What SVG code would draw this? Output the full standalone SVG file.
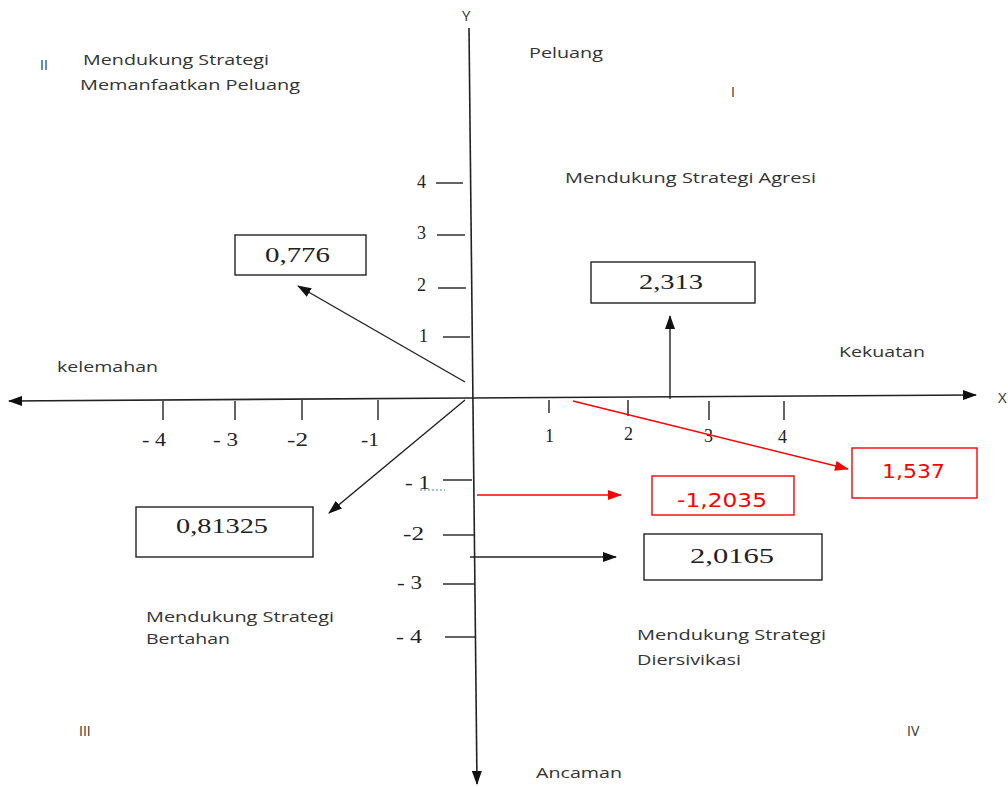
<svg xmlns="http://www.w3.org/2000/svg" width="1008" height="787" viewBox="0 0 1008 787">
  <style>
    .lbl { font-family: "Open Sans", "Liberation Sans", sans-serif; font-size: 15px; fill: #333; }
    .roman { font-family: "Open Sans", "Liberation Sans", sans-serif; font-size: 14px; fill: #333; }
    .num { font-family: "Liberation Serif", serif; font-size: 18px; fill: #222; }
    .val { font-family: "Liberation Serif", serif; font-size: 21px; fill: #222; }
    .valr { font-family: "DejaVu Sans", "Liberation Sans", sans-serif; font-size: 20px; fill: #ff0000; }
    .axis { stroke: #222; stroke-width: 1.6; fill: none; }
    .tick { stroke: #222; stroke-width: 1.4; }
    .box { fill: #fff; stroke: #222; stroke-width: 1.4; }
    .boxr { fill: #fff; stroke: #ff0000; stroke-width: 1.4; }
    .arr { stroke: #222; stroke-width: 1.4; fill: none; }
    .arrr { stroke: #ff0000; stroke-width: 1.4; fill: none; }
  </style>
  <defs>
    <marker id="ah" markerUnits="userSpaceOnUse" markerWidth="14" markerHeight="10" refX="13" refY="5" orient="auto">
      <path d="M0,0 L14,5 L0,10 Z" fill="#111"/>
    </marker>
    <marker id="ahr" markerUnits="userSpaceOnUse" markerWidth="14" markerHeight="10" refX="13" refY="5" orient="auto">
      <path d="M0,0 L14,5 L0,10 Z" fill="#ff0000"/>
    </marker>
  </defs>

  <rect width="1008" height="787" fill="#fff"/>

  <!-- axes -->
  <g id="axes">
    <line class="axis" x1="469" y1="28" x2="477" y2="784" marker-end="url(#ah)"/>
    <line class="axis" x1="470" y1="398" x2="976" y2="395" marker-end="url(#ah)"/>
    <line class="axis" x1="470" y1="398" x2="9" y2="401" marker-end="url(#ah)"/>
    <text class="lbl" x="462" y="21">Y</text>
    <text class="lbl" x="998" y="403">X</text>

    <!-- x ticks -->
    <line class="tick" x1="163" y1="401" x2="163" y2="420"/>
    <line class="tick" x1="235" y1="401" x2="235" y2="420"/>
    <line class="tick" x1="302" y1="400" x2="302" y2="420"/>
    <line class="tick" x1="378" y1="400" x2="378" y2="420"/>
    <line class="tick" x1="549" y1="400" x2="549" y2="413"/>
    <line class="tick" x1="628" y1="400" x2="628" y2="416"/>
    <line class="tick" x1="709" y1="401" x2="709" y2="420"/>
    <line class="tick" x1="784" y1="401" x2="784" y2="420"/>
    <text class="num" x="142" y="446" textLength="24" lengthAdjust="spacingAndGlyphs">- 4</text>
    <text class="num" x="213" y="446" textLength="25" lengthAdjust="spacingAndGlyphs">- 3</text>
    <text class="num" x="287" y="446" textLength="21" lengthAdjust="spacingAndGlyphs">-2</text>
    <text class="num" x="361" y="446" textLength="18" lengthAdjust="spacingAndGlyphs">-1</text>
    <text class="num" x="545" y="442">1</text>
    <text class="num" x="624" y="440">2</text>
    <text class="num" x="704" y="442">3</text>
    <text class="num" x="778" y="443">4</text>

    <!-- y ticks -->
    <line class="tick" x1="436" y1="183" x2="463" y2="183"/>
    <line class="tick" x1="437" y1="235" x2="465" y2="235"/>
    <line class="tick" x1="438" y1="288" x2="466" y2="288"/>
    <line class="tick" x1="443" y1="337" x2="470" y2="337"/>
    <line class="tick" x1="443" y1="480" x2="472" y2="480"/>
    <line class="tick" x1="443" y1="535" x2="475" y2="535"/>
    <line class="tick" x1="443" y1="584" x2="475" y2="584"/>
    <line class="tick" x1="445" y1="637" x2="476" y2="637"/>
    <text class="num" x="417" y="188">4</text>
    <text class="num" x="417" y="239">3</text>
    <text class="num" x="417" y="291">2</text>
    <text class="num" x="419" y="342">1</text>
    <text class="num" x="405" y="489" textLength="25" lengthAdjust="spacingAndGlyphs">- 1</text>
    <line x1="420" y1="490" x2="445" y2="490" stroke="#4a7fd8" stroke-width="1" stroke-dasharray="2,2"/>
    <text class="num" x="403" y="540" textLength="21" lengthAdjust="spacingAndGlyphs">-2</text>
    <text class="num" x="397" y="589" textLength="25" lengthAdjust="spacingAndGlyphs">- 3</text>
    <text class="num" x="396" y="643" textLength="26" lengthAdjust="spacingAndGlyphs">- 4</text>
  </g>

  <!-- quadrant and side labels -->
  <g id="labels">
    <text class="roman" x="40" y="70">II</text>
    <text class="lbl" x="83" y="65" textLength="186" lengthAdjust="spacingAndGlyphs">Mendukung Strategi</text>
    <text class="lbl" x="80" y="90" textLength="220" lengthAdjust="spacingAndGlyphs">Memanfaatkan Peluang</text>
    <text class="lbl" x="529" y="58" textLength="74" lengthAdjust="spacingAndGlyphs">Peluang</text>
    <text class="roman" x="731" y="97">I</text>
    <text class="lbl" x="565" y="183" textLength="251" lengthAdjust="spacingAndGlyphs">Mendukung Strategi Agresi</text>
    <text class="lbl" x="839" y="357" textLength="86" lengthAdjust="spacingAndGlyphs">Kekuatan</text>
    <text class="lbl" x="57" y="372" textLength="101" lengthAdjust="spacingAndGlyphs">kelemahan</text>
    <text class="lbl" x="146" y="622" textLength="188" lengthAdjust="spacingAndGlyphs">Mendukung Strategi</text>
    <text class="lbl" x="146" y="644" textLength="84" lengthAdjust="spacingAndGlyphs">Bertahan</text>
    <text class="lbl" x="637" y="640" textLength="189" lengthAdjust="spacingAndGlyphs">Mendukung Strategi</text>
    <text class="lbl" x="637" y="665" textLength="104" lengthAdjust="spacingAndGlyphs">Diersivikasi</text>
    <text class="roman" x="79" y="736">III</text>
    <text class="roman" x="907" y="736">IV</text>
    <text class="lbl" x="536" y="778" textLength="86" lengthAdjust="spacingAndGlyphs">Ancaman</text>
  </g>

  <!-- connectors -->
  <g id="connectors">
    <line class="arr" x1="465" y1="382" x2="298" y2="286" marker-end="url(#ah)"/>
    <line class="arr" x1="670" y1="399" x2="670" y2="316" marker-end="url(#ah)"/>
    <line class="arrr" x1="573" y1="401" x2="848" y2="469" marker-end="url(#ahr)"/>
    <line class="arrr" x1="477" y1="495" x2="621" y2="495" marker-end="url(#ahr)"/>
    <line class="arr" x1="470" y1="557" x2="616" y2="557" marker-end="url(#ah)"/>
    <line class="arr" x1="465" y1="400" x2="329" y2="513" marker-end="url(#ah)"/>
  </g>

  <!-- value boxes -->
  <g id="node-0776">
    <rect class="box" x="235" y="235" width="131" height="40"/>
    <text class="val" x="265" y="262" textLength="65" lengthAdjust="spacingAndGlyphs">0,776</text>
  </g>
  <g id="node-2313">
    <rect class="box" x="591" y="262" width="164" height="41"/>
    <text class="val" x="639" y="289" textLength="64" lengthAdjust="spacingAndGlyphs">2,313</text>
  </g>
  <g id="node-1537">
    <rect class="boxr" x="852" y="448" width="125" height="50"/>
    <text class="valr" x="882" y="478" textLength="63" lengthAdjust="spacingAndGlyphs">1,537</text>
  </g>
  <g id="node-12035">
    <rect class="boxr" x="652" y="476" width="142" height="39"/>
    <text class="valr" x="677" y="507" textLength="90" lengthAdjust="spacingAndGlyphs">-1,2035</text>
  </g>
  <g id="node-20165">
    <rect class="box" x="644" y="534" width="178" height="46"/>
    <text class="val" x="690" y="563" textLength="84" lengthAdjust="spacingAndGlyphs">2,0165</text>
  </g>
  <g id="node-081325">
    <rect class="box" x="136" y="507" width="177" height="50"/>
    <text class="val" x="176" y="533" textLength="92" lengthAdjust="spacingAndGlyphs">0,81325</text>
  </g>
</svg>
